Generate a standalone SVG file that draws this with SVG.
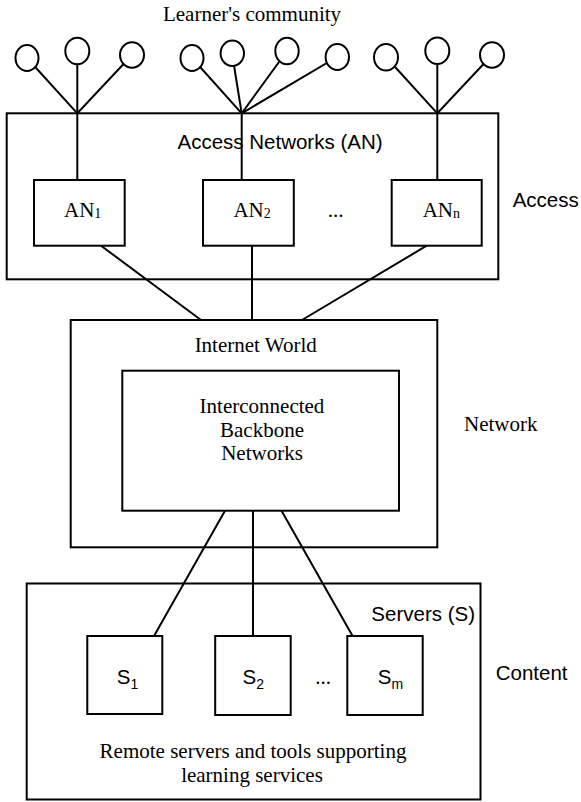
<svg xmlns="http://www.w3.org/2000/svg" width="581" height="802" viewBox="0 0 581 802">
<style>
.box{fill:none;stroke:#000;stroke-width:2}
.nb{fill:#fff;stroke:#000;stroke-width:2}
.ln{stroke:#000;stroke-width:2;fill:none}
.tr{font-family:"Liberation Serif","Times New Roman",serif;font-size:21px;fill:#000}
.ar{font-family:"Liberation Sans",Arial,sans-serif;font-size:20.5px;fill:#000}
.sub{font-size:14px}
</style>
<rect width="581" height="802" fill="#fff"/>
<g id="connectors">
<line class="ln" x1="77.3" y1="113.3" x2="27" y2="58"/>
<line class="ln" x1="77.3" y1="113.3" x2="77.3" y2="51"/>
<line class="ln" x1="77.3" y1="113.3" x2="132" y2="55"/>
<line class="ln" x1="241.7" y1="113.3" x2="192" y2="58"/>
<line class="ln" x1="241.7" y1="113.3" x2="232" y2="53"/>
<line class="ln" x1="241.7" y1="113.3" x2="287" y2="51"/>
<line class="ln" x1="241.7" y1="113.3" x2="337" y2="57"/>
<line class="ln" x1="437.3" y1="113.3" x2="386" y2="57"/>
<line class="ln" x1="437.3" y1="113.3" x2="437.3" y2="51"/>
<line class="ln" x1="437.3" y1="113.3" x2="492" y2="55"/>
<line class="ln" x1="77.3" y1="113.3" x2="77.3" y2="180"/>
<line class="ln" x1="241.7" y1="113.3" x2="241.7" y2="180"/>
<line class="ln" x1="437.3" y1="113.3" x2="437.3" y2="180"/>
<line class="ln" x1="101" y1="245.7" x2="201" y2="320"/>
<line class="ln" x1="252" y1="245.7" x2="252" y2="320"/>
<line class="ln" x1="426.7" y1="245.7" x2="302" y2="320"/>
<line class="ln" x1="225" y1="510.7" x2="154" y2="636"/>
<line class="ln" x1="253" y1="510.7" x2="253" y2="636"/>
<line class="ln" x1="281.5" y1="510.7" x2="352.6" y2="636"/>
</g>
<text class="tr" x="252" y="21" text-anchor="middle">Learner's community</text>
<g id="learners">
<ellipse class="nb" cx="27" cy="58" rx="11.5" ry="13"/>
<ellipse class="nb" cx="77.3" cy="51" rx="12" ry="13.3"/>
<ellipse class="nb" cx="132" cy="55" rx="12" ry="12.7"/>
<ellipse class="nb" cx="192" cy="58" rx="11.5" ry="13"/>
<ellipse class="nb" cx="232.3" cy="53.3" rx="11.7" ry="12.7"/>
<ellipse class="nb" cx="287" cy="51" rx="11.7" ry="13.3"/>
<ellipse class="nb" cx="337.3" cy="57" rx="11.7" ry="13"/>
<ellipse class="nb" cx="386" cy="57.3" rx="12" ry="13.3"/>
<ellipse class="nb" cx="437.3" cy="50.7" rx="12" ry="13.3"/>
<ellipse class="nb" cx="492" cy="55" rx="12" ry="12.7"/>
</g>
<g id="access">
<rect class="box" x="6.7" y="113.3" width="491.6" height="166"/>
<text class="ar" x="280" y="149" text-anchor="middle">Access Networks (AN)</text>
<text class="ar" x="512.7" y="207">Access</text>
</g>
<g id="an1">
<rect class="nb" x="34" y="180" width="90.7" height="65.7"/>
<text class="tr" x="64" y="217">AN<tspan class="sub" dy="1">1</tspan></text>
</g>
<g id="an2">
<rect class="nb" x="203" y="180" width="90.8" height="65.7"/>
<text class="tr" x="233.4" y="217">AN<tspan class="sub" dy="1">2</tspan></text>
</g>
<text class="tr" x="335.5" y="217" text-anchor="middle">...</text>
<g id="ann">
<rect class="nb" x="391.7" y="180" width="90" height="65.7"/>
<text class="tr" x="422.7" y="217">AN<tspan class="sub" dy="1">n</tspan></text>
</g>
<g id="internet">
<rect class="box" x="70.7" y="320" width="366.6" height="227.3"/>
<text class="tr" x="255.7" y="351.7" text-anchor="middle">Internet World</text>
<text class="tr" x="537.5" y="431" text-anchor="end">Network</text>
</g>
<g id="backbone">
<rect class="box" x="122.3" y="370.7" width="276.7" height="140"/>
<text class="tr" x="262" y="413" text-anchor="middle">Interconnected</text>
<text class="tr" x="262" y="436.7" text-anchor="middle">Backbone</text>
<text class="tr" x="262" y="460" text-anchor="middle">Networks</text>
</g>
<g id="servers">
<rect class="box" x="26.7" y="583.5" width="453.8" height="216"/>
<text class="ar" x="475" y="621" text-anchor="end">Servers (S)</text>
<text class="ar" x="495.7" y="680">Content</text>
<text class="tr" x="253" y="758" text-anchor="middle">Remote servers and tools supporting</text>
<text class="tr" x="252" y="782" text-anchor="middle">learning services</text>
</g>
<g id="s1">
<rect class="nb" x="87.3" y="636" width="75" height="78"/>
<text class="ar" x="116.7" y="684">S<tspan class="sub" dy="5">1</tspan></text>
</g>
<g id="s2">
<rect class="nb" x="215.2" y="636" width="75.5" height="79"/>
<text class="ar" x="242.6" y="684">S<tspan class="sub" dy="5">2</tspan></text>
</g>
<text class="tr" x="323" y="684" text-anchor="middle">...</text>
<g id="sm">
<rect class="nb" x="347.3" y="636" width="75.4" height="79"/>
<text class="ar" x="377.8" y="684">S<tspan class="sub" dy="5">m</tspan></text>
</g>
</svg>
